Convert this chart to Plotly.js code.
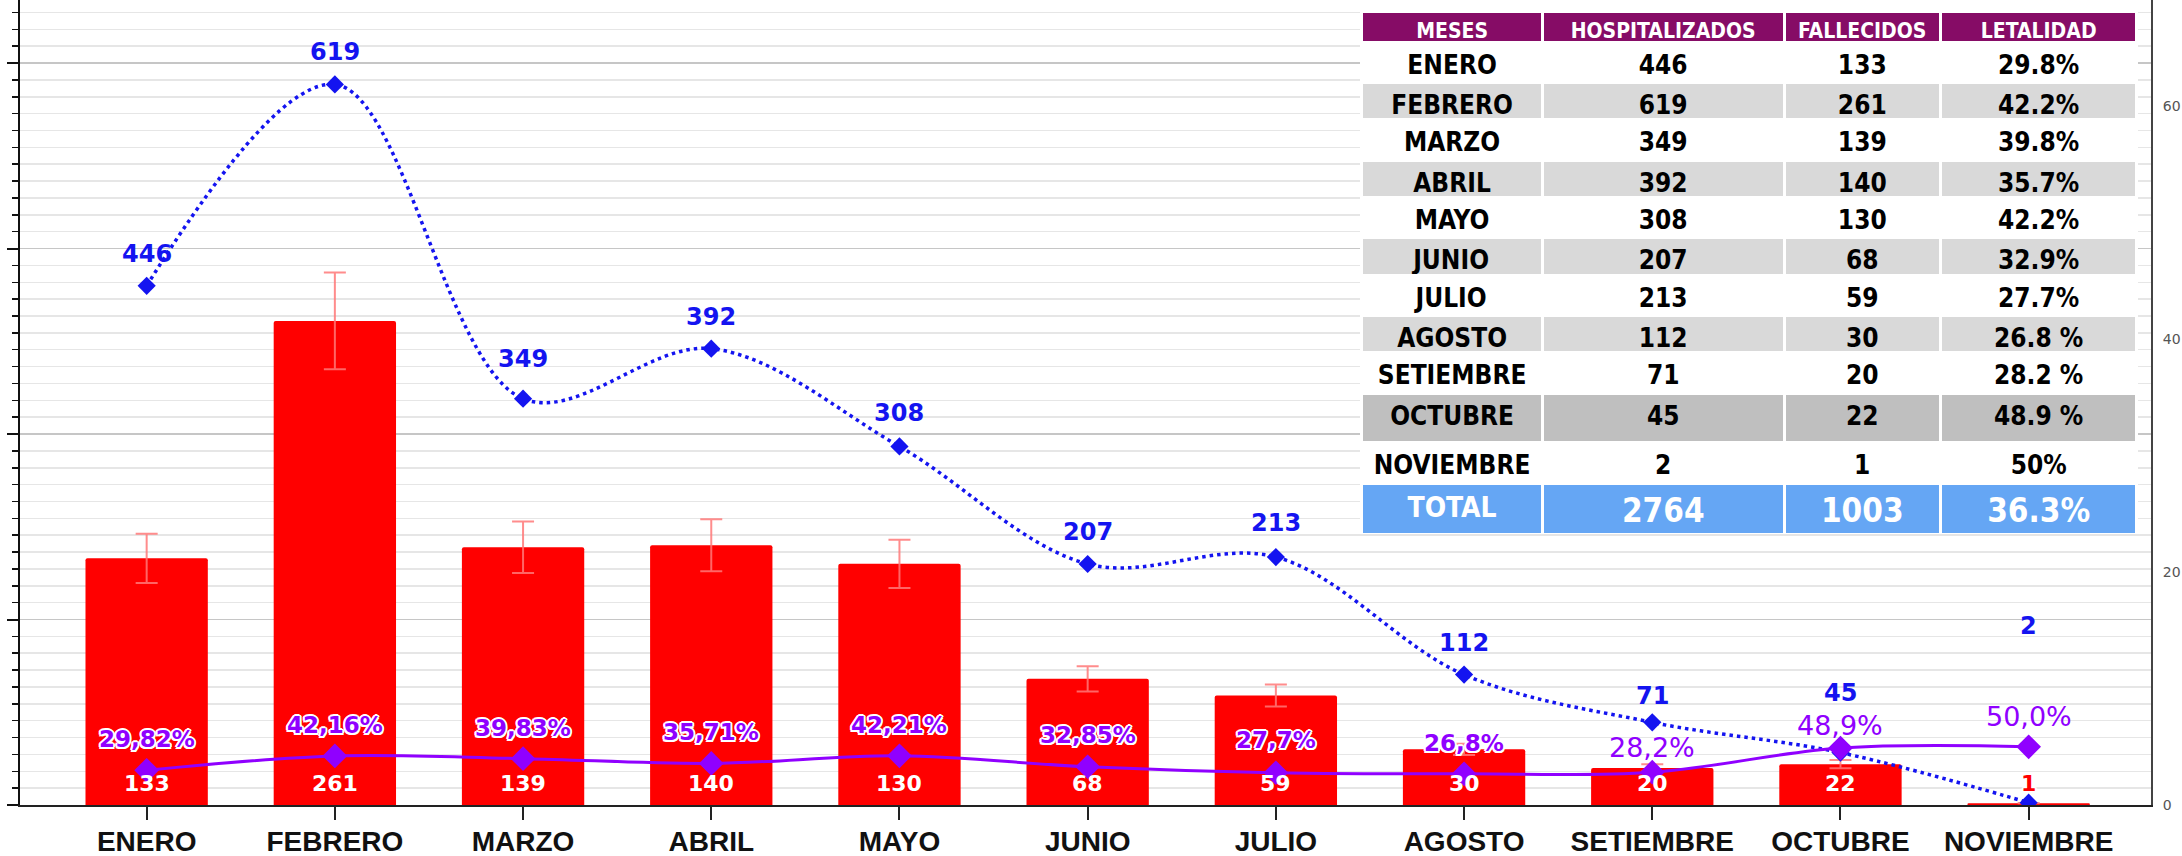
<!DOCTYPE html>
<html>
<head>
<meta charset="utf-8">
<script src="https://cdn.plot.ly/plotly-3.0.1.min.js"></script>
<style>html,body{margin:0;padding:0;background:#fff}#chart{width:2182px;height:856px}</style>
</head>
<body>
<div id="chart"></div>
<script>
// ---------------- DATA ----------------
const meses = ['ENERO','FEBRERO','MARZO','ABRIL','MAYO','JUNIO','JULIO','AGOSTO','SETIEMBRE','OCTUBRE','NOVIEMBRE'];
const hospitalizados = [446,619,349,392,308,207,213,112,71,45,2];
const fallecidos = [133,261,139,140,130,68,59,30,20,22,1];
const letalidad = [29.82,42.16,39.83,35.71,42.21,32.85,27.7,26.8,28.2,48.9,50.0];
const letalidadEtiquetas = ['29,82%','42,16%','39,83%','35,71%','42,21%','32,85%','27,7%','26,8%','28,2%','48,9%','50,0%'];
const letalidadTabla = ['29.8%','42.2%','39.8%','35.7%','42.2%','32.9%','27.7%','26.8 %','28.2 %','48.9 %','50%'];
const letalidadTotal = '36.3%';
const encabezados = ['MESES','HOSPITALIZADOS','FALLECIDOS','LETALIDAD'];
const totalEtiqueta = 'TOTAL';
const ejeDerechoValores = [0,200,400,600];
const ejeDerechoEtiquetas = ['0','20','40','60'];

// ---------------- STYLE ----------------
const hospShift = [32,32,40,32,33,32,34,32,26,60,177];
const letShift  = [31,31,31,31,31,32,33,31,25,23,30];
const outline = '2px 0 0 #fff,-2px 0 0 #fff,0 2px 0 #fff,0 -2px 0 #fff,1.5px 1.5px 0 #fff,-1.5px -1.5px 0 #fff,1.5px -1.5px 0 #fff,-1.5px 1.5px 0 #fff';
const BLUE = '#1414F0', PURPLE = '#9000FF', RED = '#FF0000';
const PLOT_H = 805;
const yf = px => 1 - px / PLOT_H;
const tx0 = 0.6297, tx1 = 0.9934;
const colW = [179, 240, 155, 195];
const tFont = 'DejaVu Sans Condensed';
// table row boundaries (px from top): header, 11 months, total
const filaBordes = [11,42,82,119,160,197,237,275,315,352,393,442,483,533];
const filaColores = ['#860C66','#FFFFFF','#D9D9D9','#FFFFFF','#D9D9D9','#FFFFFF','#D9D9D9','#FFFFFF','#D9D9D9','#FFFFFF','#BFBFBF','#FFFFFF','#65A6F4'];

const totalH = hospitalizados.reduce((a,b)=>a+b,0);
const totalF = fallecidos.reduce((a,b)=>a+b,0);

const traces = [];
traces.push({
  type:'bar', x:meses, y:fallecidos, yaxis:'y', xaxis:'x',
  marker:{color:RED, cornerradius:2},
  error_y:{type:'percent', value:10, color:'rgba(255,120,120,0.85)', thickness:2, width:11},
  hoverinfo:'skip', showlegend:false
});
traces.push({
  type:'scatter', mode:'lines+markers', x:meses, y:hospitalizados, yaxis:'y2',
  line:{color:BLUE, width:3.5, dash:'3.5px,4px', shape:'spline', smoothing:1},
  marker:{symbol:'diamond', size:14, color:BLUE},
  hoverinfo:'skip', showlegend:false
});
traces.push({
  type:'scatter', mode:'lines+markers', x:meses, y:letalidad, yaxis:'y2',
  line:{color:PURPLE, width:3, shape:'spline', smoothing:1},
  marker:{symbol:'diamond', size:19, color:PURPLE},
  hoverinfo:'skip', showlegend:false
});

// Table rows: each row drawn as its own single-row table
const filas = [encabezados];
meses.forEach((m,i)=> filas.push([m, String(hospitalizados[i]), String(fallecidos[i]), letalidadTabla[i]]));
filas.push([totalEtiqueta, String(totalH), String(totalF), letalidadTotal]);
filas.forEach((vals, r)=>{
  const top = filaBordes[r], bottom = filaBordes[r+1];
  const isHeader = r === 0, isTotal = r === filas.length - 1;
  const size = isHeader ? 21 : (isTotal ? [28,33,33,33] : 26);
  const color = (isHeader || isTotal) ? '#FFFFFF' : '#000000';
  traces.push({
    type:'table', columnwidth:colW,
    domain:{x:[tx0,tx1], y:[yf(bottom), yf(top)]},
    header:{values:vals.map(v=>'<b>'+v+'</b>'), height:bottom-top, align:'center',
      fill:{color:filaColores[r]}, line:{color:'#FFFFFF', width:3},
      font:{family:tFont, size:size, color:color}},
    cells:{values:[[],[],[],[]], height:1}
  });
});

const annotations = [];
meses.forEach((m,i)=>{
  annotations.push({x:m, y:hospitalizados[i], xref:'x', yref:'y2', yshift:hospShift[i],
    text:String(hospitalizados[i]), showarrow:false, xanchor:'center', yanchor:'middle',
    font:{family:'DejaVu Sans', weight:'bold', size:24, color:BLUE}});
  const strong = i < 8;
  annotations.push({x:m, y:letalidad[i], xref:'x', yref:'y2', yshift:letShift[i],
    text:letalidadEtiquetas[i], showarrow:false, xanchor:'center', yanchor:'middle',
    font:{family:'DejaVu Sans', weight: strong ? 'bold' : 'normal', size: strong ? 23 : 27, color:PURPLE,
      shadow: strong ? outline : 'none'}});
  const inside = fallecidos[i] >= 10;
  annotations.push({x:m, y:0, xref:'x', yref:'y', yshift:22,
    text:String(fallecidos[i]), showarrow:false, xanchor:'center', yanchor:'middle',
    font:{family:'DejaVu Sans', weight:'bold', size:22, color: inside ? '#FFFFFF' : RED, shadow: inside ? 'none' : outline}});
});

const layout = {
  width:2182, height:856,
  margin:{l:20, r:31, t:0, b:51, pad:0},
  paper_bgcolor:'#FFFFFF', plot_bgcolor:'#FFFFFF',
  bargap:0.35, showlegend:false,
  xaxis:{type:'category', range:[-0.673, 10.65], showline:true, linecolor:'#222', linewidth:2,
    ticks:'outside', ticklen:13, tickwidth:2, tickcolor:'#222', ticklabelstandoff:-3,
    tickfont:{family:'Liberation Sans, Arial, sans-serif', size:28, weight:'bold', color:'#111'},
    showgrid:false, zeroline:false, fixedrange:true},
  yaxis:{range:[0,434], showline:true, linecolor:'#111', linewidth:2.5,
    ticks:'outside', ticklen:11, tickwidth:2, tickcolor:'#111', tick0:0, dtick:100,
    showticklabels:false, showgrid:true, gridcolor:'#C6C6C6', gridwidth:1.5, zeroline:false,
    minor:{dtick:100/11, tick0:0, ticks:'outside', ticklen:6, tickwidth:1.5, tickcolor:'#111',
      showgrid:true, gridcolor:'#E6E6E6', gridwidth:1.5}},
  yaxis3:{overlaying:'y', anchor:'x', side:'left', range:[0,434],
    ticks:'inside', ticklen:11, tickwidth:2, tickcolor:'#111', tick0:0, dtick:100,
    showticklabels:false, showgrid:false, zeroline:false, showline:false,
    minor:{dtick:100/11, tick0:0, ticks:'inside', ticklen:6, tickwidth:1.5, tickcolor:'#111', showgrid:false}},
  yaxis4:{overlaying:'y', anchor:'x', side:'right', range:[0,434],
    ticks:'inside', ticklen:9, tickwidth:1.5, tickcolor:'#B0B0B0', tick0:0, dtick:100/11,
    showticklabels:false, showgrid:false, zeroline:false, showline:false},
  yaxis2:{overlaying:'y', anchor:'x', side:'right', range:[0,691.5],
    showline:true, linecolor:'#444', linewidth:2, ticks:'',
    tickvals:ejeDerechoValores, ticktext:ejeDerechoEtiquetas, ticklabelstandoff:7,
    tickfont:{family:'DejaVu Sans', size:14, color:'#555'},
    showgrid:false, zeroline:false},
  annotations:annotations
};

Plotly.newPlot('chart', traces, layout, {staticPlot:true, displayModeBar:false});
</script>
</body>
</html>
